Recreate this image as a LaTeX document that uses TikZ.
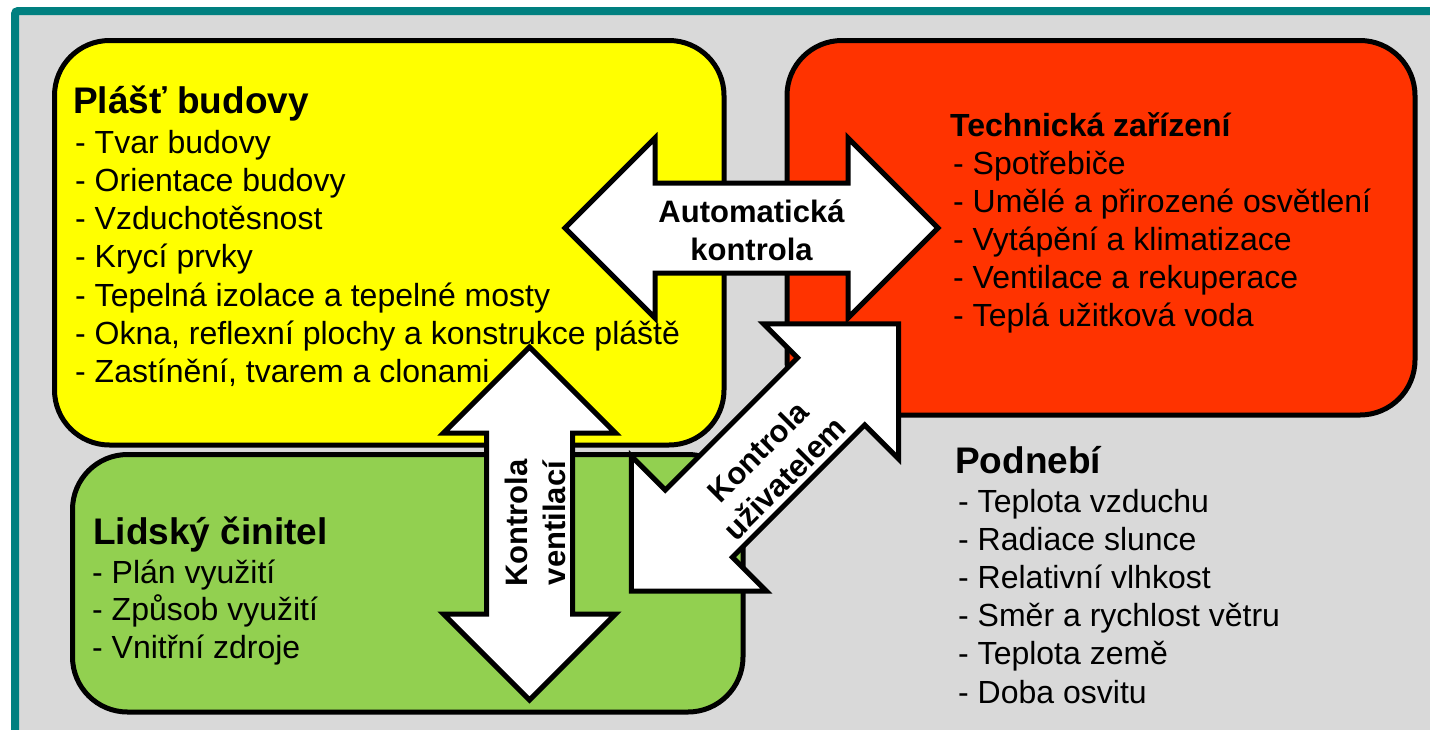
\documentclass[tikz,border=0pt]{standalone}
\usepackage{fontspec}
\setmainfont{Liberation Sans}

\definecolor{framecol}{RGB}{0,128,128}
\definecolor{backcol}{RGB}{217,217,217}
\definecolor{obalcol}{RGB}{255,255,0}
\definecolor{techcol}{RGB}{255,51,0}
\definecolor{lidecol}{RGB}{146,208,80}

\tikzset{
  box/.style={draw=black, line width=5pt, rounded corners=55pt},
  arrowbody/.style={draw=black, fill=white, line width=5pt, line join=miter},
  title/.style={anchor=base west, inner sep=0pt, font=\bfseries\fontsize{37}{44}\selectfont},
  item/.style={anchor=base west, inner sep=0pt, font=\fontsize{32}{38}\selectfont},
  arrowtext/.style={align=center, inner sep=0pt, font=\bfseries\fontsize{31}{38}\selectfont}
}

% double arrow: centre x, centre y, angle, half length, head, half shaft
\newcommand{\dblarrow}[6]{
  \begin{scope}[shift={(#1,#2)}, rotate=#3]
    \draw[arrowbody] (-#4,0) -- (-#4+#5,-#5) -- (-#4+#5,-#6) -- (#4-#5,-#6)
      -- (#4-#5,-#5) -- (#4,0) -- (#4-#5,#5) -- (#4-#5,#6) -- (-#4+#5,#6)
      -- (-#4+#5,#5) -- cycle;
  \end{scope}
}

\begin{document}
\begin{tikzpicture}[x=1pt, y=-1pt]
\useasboundingbox (0,0) rectangle (1430,729);
\clip (0,0) rectangle (1430,729);
\draw[line width=8pt, draw=framecol, fill=backcol, rounded corners=3pt] (15,11) rectangle (1460,760);

% boxes
\draw[box, fill=obalcol] (54.5,40.5) rectangle (724,445);
\draw[box, fill=techcol] (787,40.5) rectangle (1415,415);
\draw[box, fill=lidecol] (72.5,454.5) rectangle (743,712);

% plast budovy
\node[title] (obal) at (73,113) {Plášť budovy};
\foreach \t [count=\i from 0] in {Tvar budovy, Orientace budovy, Vzduchotěsnost, Krycí prvky,
  Tepelná izolace a tepelné mosty, {Okna, reflexní plochy a konstrukce pláště},
  {Zastínění, tvarem a clonami}}
  \node[item] (obal\i) at (75,153+38.3*\i) {- \t};

% technicka zarizeni
\node[title, font=\bfseries\fontsize{32}{38}\selectfont] (tech) at (950,136) {Technická zařízení};
\foreach \t [count=\i from 0] in {Spotřebiče, Umělé a přirozené osvětlení, Vytápění a klimatizace,
  Ventilace a rekuperace, Teplá užitková voda}
  \node[item] (tech\i) at (953,174+38.2*\i) {- \t};

% lidsky cinitel
\node[title] (lide) at (93,544) {Lidský činitel};
\foreach \t [count=\i from 0] in {Plán využití, Způsob využití, Vnitřní zdroje}
  \node[item] (lide\i) at (92,583+37.7*\i) {- \t};

% podnebi
\node[title] (klima) at (955,473) {Podnebí};
\foreach \t [count=\i from 0] in {Teplota vzduchu, Radiace slunce, Relativní vlhkost,
  Směr a rychlost větru, Teplota země, Doba osvitu}
  \node[item] (klima\i) at (958,512+38.2*\i) {- \t};

% arrows
\dblarrow{751.5}{228}{0}{186.5}{90}{45}
\node[arrowtext] (auto) at (751.5,230) {Automatická\\kontrola};
\dblarrow{529.5}{523.5}{90}{176.5}{86}{43}
\node[arrowtext, rotate=90] (vent) at (535,523) {Kontrola\\ventilací};
\dblarrow{765}{457.5}{45}{189}{95.5}{47.5}
\node[arrowtext, rotate=45] (uziv) at (771,465) {Kontrola\\uživatelem};
\end{tikzpicture}
\end{document}
